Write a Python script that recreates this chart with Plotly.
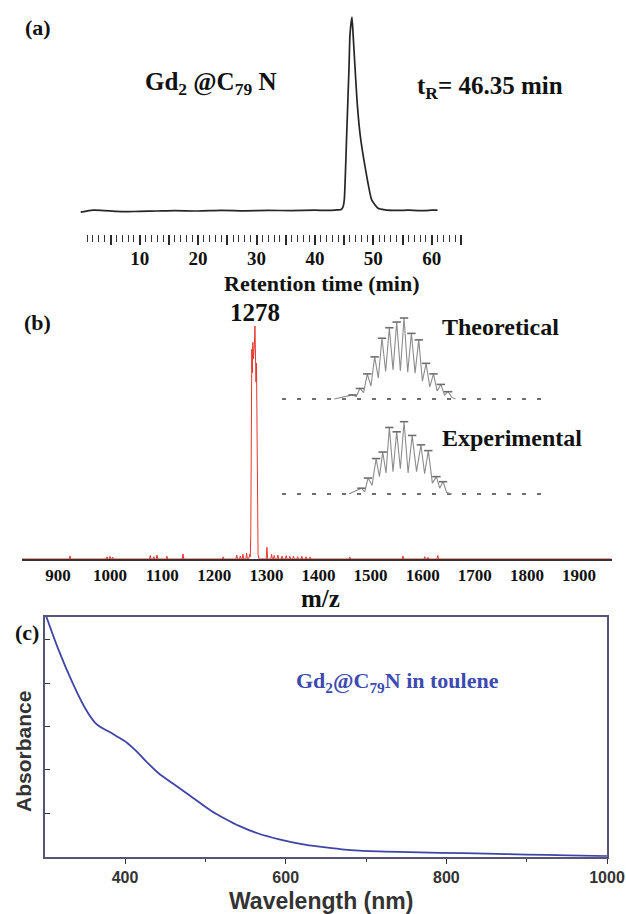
import plotly.graph_objects as go

W, H = 626, 914
SERIF = "Liberation Serif"
SANS = "Liberation Sans"

# ---------------- (a) HPLC chromatogram ----------------
hplc_time = [-0.1, 2, 4, 6, 8, 10, 13, 16, 20, 24, 28, 32, 36, 40, 42, 43.5, 44.5,
             44.8, 45.03, 45.45, 45.84, 46.01, 46.35, 46.58, 46.87, 47.21, 47.72,
             48.58, 49.73, 50.8, 52, 54, 56, 58, 60, 61.0]
hplc_signal = [-0.006, 0.004, 0.002, -0.002, -0.003, -0.002, 0.0, 0.002, 0.0, 0.003,
               0.001, 0.003, 0.002, 0.004, 0.003, 0.005, 0.008,
               0.02, 0.057, 0.40, 0.74, 0.91, 1.0, 0.89, 0.74, 0.57, 0.40,
               0.23, 0.057, 0.014, 0.006, 0.003, 0.004, 0.002, 0.004, 0.005]
hplc_major_ticks = [5, 10, 15, 20, 25, 30, 35, 40, 45, 50, 55, 60, 65]
hplc_tick_labels = ["", "10", "", "20", "", "30", "", "40", "", "50", "", "60", ""]
retention_time = 46.35

# ---------------- (b) mass spectrum ----------------
ms_cluster_mz = [1266, 1268, 1269, 1270, 1271, 1272, 1273, 1274, 1275, 1276, 1277,
                 1278, 1279, 1280, 1281, 1282, 1283, 1284, 1286]
ms_cluster_int = [0, 2, 1, 10, 55, 90, 80, 93, 86, 88, 92, 100, 90, 76, 84, 40, 10, 2, 0]
ms_minor_mz = [923, 994, 1000, 1005, 1077, 1084, 1090, 1109, 1140, 1217, 1243, 1250,
               1255, 1262, 1301, 1310, 1315, 1322, 1330, 1338, 1345, 1352, 1360, 1368,
               1376, 1384, 1460, 1562, 1604, 1610, 1629]
ms_minor_int = [1.3, 0.9, 1.1, 0.8, 1.5, 1.0, 1.7, 1.2, 2.2, 0.9, 1.7, 1.3,
                2.0, 2.5, 5.0, 2.0, 1.5, 1.7, 1.3, 1.5, 1.1, 1.3, 1.0, 1.2,
                1.0, 0.9, 0.8, 1.3, 1.0, 0.7, 1.5]
ms_ticks = [900, 1000, 1100, 1200, 1300, 1400, 1500, 1600, 1700, 1800, 1900]
main_peak_mz = 1278

# isotope pattern insets (relative intensity)
theo_mz = [1271, 1272, 1273, 1274, 1275, 1276, 1277, 1278, 1279, 1280, 1281, 1282, 1283, 1284]
theo_int = [0.05, 0.13, 0.31, 0.52, 0.75, 0.88, 0.95, 1.0, 0.81, 0.73, 0.44, 0.31, 0.18, 0.09]
theo_valley = [0.03, 0.08, 0.16, 0.26, 0.34, 0.36, 0.35, 0.33, 0.32, 0.22, 0.15, 0.10, 0.05, 0.02]

exp_mz = [1272.2, 1273.1, 1274.2, 1275.1, 1276.0, 1277.0, 1278.0, 1279.1, 1280.3,
          1281.3, 1282.4, 1283.3]
exp_int = [0.08, 0.22, 0.49, 0.58, 0.92, 0.86, 1.0, 0.81, 0.68, 0.60, 0.24, 0.17]
exp_valley = [0.03, 0.12, 0.24, 0.29, 0.31, 0.35, 0.29, 0.31, 0.28, 0.15, 0.08, 0.02]

# ---------------- (c) UV-vis-NIR absorption ----------------
uv_wavelength = [302, 317.5, 335, 350, 362.5, 370, 382, 390, 402, 410, 417.5, 425,
                 442.5, 460, 477.5, 507, 525, 542, 565, 592, 620, 642, 670, 692, 740,
                 792, 850, 900, 950, 1000]
uv_absorbance = [5.53, 4.75, 3.99, 3.43, 3.09, 2.98, 2.86, 2.77, 2.63, 2.50, 2.37, 2.22,
                 1.91, 1.68, 1.45, 1.06, 0.87, 0.71, 0.54, 0.40, 0.29, 0.23, 0.17, 0.14,
                 0.11, 0.09, 0.07, 0.05, 0.03, 0.01]


def px(x):
    return x / W


def py(y):
    return 1 - y / H


def spikes(mz_list, int_list, half=1.5):
    xs, ys = [], []
    for m, v in zip(mz_list, int_list):
        xs += [m - half, m, m + half]
        ys += [0, v, 0]
    return xs, ys


def zigzag(mz_list, peak_list, valley_list, start, end):
    xs, ys = [start], [0]
    for i, (m, v) in enumerate(zip(mz_list, peak_list)):
        xs.append(m)
        ys.append(v)
        nxt = mz_list[i + 1] if i + 1 < len(mz_list) else m + 1
        xs.append((m + nxt) / 2)
        ys.append(valley_list[i])
    xs.append(end)
    ys.append(0)
    return xs, ys


fig = go.Figure()

# (a) chromatogram
fig.add_trace(go.Scatter(x=hplc_time, y=hplc_signal, mode="lines",
                         line=dict(color="#262626", width=1.7, shape="spline", smoothing=0.5),
                         xaxis="x", yaxis="y", showlegend=False, hoverinfo="skip"))

# (b) red mass spectrum: baseline, minor peaks, main cluster
mx, my = spikes(ms_minor_mz, ms_minor_int)
pts = sorted(zip([830, 1962] + mx + ms_cluster_mz, [0, 0] + my + ms_cluster_int))
fig.add_trace(go.Scatter(x=[p[0] for p in pts], y=[p[1] for p in pts], mode="lines",
                         line=dict(color="#e8362e", width=1.0), xaxis="x2", yaxis="y2",
                         showlegend=False, hoverinfo="skip"))

# (b) insets: theoretical and experimental isotope patterns
for xa, ya, mzs, ints, vals, lo, hi in [
        ("x3", "y3", theo_mz, theo_int, theo_valley, 1268.5, 1285.0),
        ("x4", "y4", exp_mz, exp_int, exp_valley, 1270.5, 1284.5)]:
    fig.add_trace(go.Scatter(x=[1261.4, 1296.9], y=[0, 0], mode="lines",
                             line=dict(color="#6e6e6e", width=1.8, dash="4px,11px"),
                             xaxis=xa, yaxis=ya, showlegend=False, hoverinfo="skip"))
    zx, zy = zigzag(mzs, ints, vals, lo, hi)
    fig.add_trace(go.Scatter(x=zx, y=zy, mode="lines",
                             line=dict(color="#8c8c8c", width=1.1),
                             xaxis=xa, yaxis=ya, showlegend=False, hoverinfo="skip"))
    fig.add_trace(go.Scatter(x=mzs, y=ints, mode="markers",
                             marker=dict(symbol="line-ew", size=6,
                                         line=dict(color="#6e6e6e", width=1.6)),
                             xaxis=xa, yaxis=ya, showlegend=False, hoverinfo="skip"))

# (c) absorption spectrum
fig.add_trace(go.Scatter(x=uv_wavelength, y=uv_absorbance, mode="lines",
                         line=dict(color="#3f45a6", width=1.8, shape="spline", smoothing=0.8),
                         xaxis="x5", yaxis="y5", showlegend=False, hoverinfo="skip"))

hidden = dict(visible=False, showgrid=False, zeroline=False)

# (a) axis geometry: 0 min at x=81.3 px, 5.84 px per minute
a_x0, a_k = 81.3, 5.84
# (b) axis geometry: 900 at x=58 px, 0.521 px per m/z unit
b_x0, b_k = 58.0, 0.521

fig.update_layout(
    width=W, height=H, autosize=False,
    margin=dict(l=0, r=0, t=0, b=0, pad=0, autoexpand=False),
    paper_bgcolor="white", plot_bgcolor="rgba(0,0,0,0)",
    font=dict(family=SERIF, color="#111"),
    xaxis=dict(domain=[px(60), px(480)],
               range=[(60 - a_x0) / a_k, (480 - a_x0) / a_k],
               anchor="y", showline=False, showgrid=False, zeroline=False,
               ticks="outside", ticklen=10, tickwidth=1.7, tickcolor="#2a2a2a",
               ticklabelstandoff=-3, automargin=False,
               tickmode="array", tickvals=hplc_major_ticks, ticktext=hplc_tick_labels,
               tickfont=dict(family=SERIF, size=19, weight="bold", color="#111"),
               minor=dict(tickmode="array",
                          tickvals=[t for t in range(1, 66) if t % 5],
                          ticks="outside", ticklen=7, tickwidth=1.4, tickcolor="#333",
                          showgrid=False)),
    yaxis=dict(domain=[py(234), py(10)], range=[-23 / 194, 201 / 194], anchor="x", **hidden),
    xaxis2=dict(domain=[px(21.7), px(611.7)],
                range=[900 + (21.7 - b_x0) / b_k, 900 + (611.7 - b_x0) / b_k],
                anchor="y2", showline=True, linecolor="#333", linewidth=1.8,
                showgrid=False, zeroline=False, ticks="", automargin=False,
                tickmode="array", tickvals=ms_ticks,
                tickfont=dict(family=SERIF, size=17, weight="bold", color="#111")),
    yaxis2=dict(domain=[py(559), py(300)], range=[0, 259 / 233 * 100], anchor="x2", **hidden),
    xaxis3=dict(domain=[px(282), px(543)], range=[1261.4, 1296.9], anchor="y3", **hidden),
    yaxis3=dict(domain=[py(405), py(310)], range=[-6 / 81, 89 / 81], anchor="x3", **hidden),
    xaxis4=dict(domain=[px(282), px(543)], range=[1261.4, 1296.9], anchor="y4", **hidden),
    yaxis4=dict(domain=[py(500), py(415)], range=[-6 / 72.3, 79 / 72.3], anchor="x4", **hidden),
    xaxis5=dict(domain=[px(44.7), px(607)], range=[300, 1000], anchor="y5",
                showline=True, mirror=True, linecolor="#57547a", linewidth=1.6,
                showgrid=False, zeroline=False, automargin=False,
                ticks="outside", ticklen=5, tickwidth=1.3, tickcolor="#333",
                tickmode="array", tickvals=[400, 600, 800, 1000],
                tickfont=dict(family=SANS, size=16, weight="bold", color="#333"),
                minor=dict(tickmode="array", tickvals=[500, 700, 900], ticks="outside",
                           ticklen=3, tickwidth=1.2, tickcolor="#333", showgrid=False)),
    yaxis5=dict(domain=[py(856.7), py(617)], range=[0, 5.52], anchor="x5",
                showline=True, mirror=True, linecolor="#57547a", linewidth=1.6,
                showgrid=False, zeroline=False, automargin=False,
                ticks="inside", ticklen=5, tickwidth=1.3, tickcolor="#333",
                tickmode="array", tickvals=[0, 1, 2, 3, 4, 5], showticklabels=False),
)


def label(text, x, y, size, family=SERIF, color="#111", xanchor="center", angle=0):
    fig.add_annotation(text=text, x=px(x), y=py(y), xref="paper", yref="paper",
                       xanchor=xanchor, yanchor="middle", showarrow=False, textangle=angle,
                       font=dict(family=family, size=size, color=color, weight="bold"))


label("(a)", 38, 28, 22)
label("Gd<sub>2</sub> @C<sub>79</sub> N", 210, 84, 25)
label("t<sub>R</sub>= %.2f min" % retention_time, 490, 87, 25)
label("Retention time (min)", 322, 283, 22)

label("(b)", 37, 322, 22)
fig.add_annotation(text=str(main_peak_mz), x=main_peak_mz, y=py(313), xref="x2", yref="paper",
                   xanchor="center", yanchor="middle", showarrow=False,
                   font=dict(family=SERIF, size=25, weight="bold", color="#111"))
label("Theoretical", 440, 327, 24, xanchor="left")
label("Experimental", 440, 438, 24, xanchor="left")
label("m/z", 320, 598, 25)

label("(c)", 27, 632, 22)
label("Gd<sub>2</sub>@C<sub>79</sub>N in toulene", 397, 682, 22, color="#3d4ab0")
label("Absorbance", 23, 752, 21, family=SANS, color="#333", angle=-90)
label("Wavelength (nm)", 321, 901, 23, family=SANS, color="#333")

fig.write_html("out.html", config={"responsive": False})
